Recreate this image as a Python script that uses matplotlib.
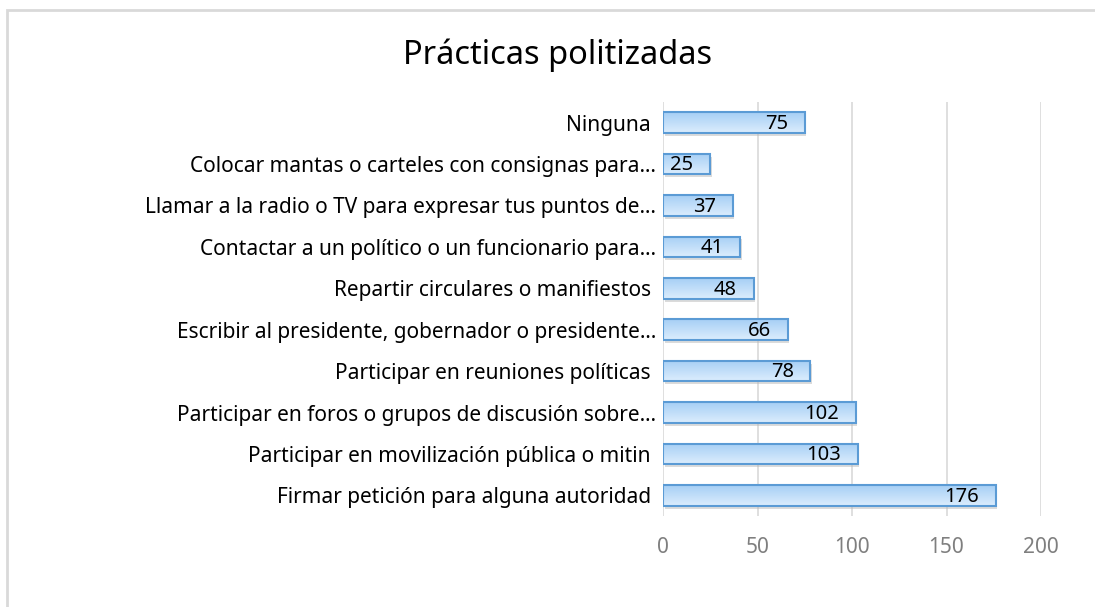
import numpy as np
import matplotlib
matplotlib.use("Agg")
import matplotlib.pyplot as plt
from matplotlib.patches import Rectangle

plt.rcParams['font.family'] = ['Noto Sans', 'DejaVu Sans']

categories = [
    "Firmar petición para alguna autoridad ",
    "Participar en movilización pública o mitin ",
    "Participar en foros o grupos de discusión sobre…",
    "Participar en reuniones políticas ",
    "Escribir al presidente, gobernador o presidente…",
    "Repartir circulares o manifiestos ",
    "Contactar a un político o un funcionario para…",
    "Llamar a la radio o TV para expresar tus puntos de…",
    "Colocar mantas o carteles con consignas para…",
    "Ninguna ",
]
values = [176, 103, 102, 78, 66, 48, 41, 37, 25, 75]
x_ticks = [0, 50, 100, 150, 200]

fig = plt.figure(figsize=(10.95, 6.07), dpi=100)
fig.patches.append(Rectangle((7 / 1095, -0.1), 1.2, 1 - 10 / 607 + 0.1,
                             transform=fig.transFigure, fill=False,
                             edgecolor="#d9d9d9", linewidth=2))

ax = fig.add_axes([663 / 1095, 1 - 516 / 607, 378 / 1095, 414 / 607])
y = np.arange(len(categories))
bars = ax.barh(y, values, height=0.5, color="none", edgecolor="#5b9bd5",
               linewidth=1.5, zorder=3)

# gradient fill + soft shadow under each bar
grad = np.linspace(0, 1, 64).reshape(-1, 1)
cmap = matplotlib.colors.LinearSegmentedColormap.from_list("g", ["#dcedfd", "#a6cff5"])
for b in bars:
    x0, y0, w, h = b.get_x(), b.get_y(), b.get_width(), b.get_height()
    ax.add_patch(Rectangle((x0 + 0.8, y0 - 0.07), w, h, facecolor="#b8b8b8",
                           edgecolor="none", alpha=0.5, zorder=2))
    ax.imshow(grad, extent=(x0, x0 + w, y0 + h, y0), cmap=cmap, aspect="auto",
              origin="upper", zorder=2.5)

for i, v in enumerate(values):
    ax.annotate(str(v), (v, i), xytext=(-12, -1), textcoords="offset points",
                ha="right", va="center", fontsize=14.5, color="black", zorder=4)

ax.set_xlim(0, 200)
ax.set_ylim(-0.5, len(categories) - 0.5)
ax.set_xticks(x_ticks)
ax.set_xticklabels([str(t) for t in x_ticks], fontsize=15, color="#7f7f7f")
ax.set_yticks(y)
ax.set_yticklabels(categories, fontsize=15, color="black")
ax.tick_params(axis="both", length=0)
ax.tick_params(axis="x", pad=15)
ax.tick_params(axis="y", pad=5)
ax.grid(axis="x", color="#d9d9d9", linewidth=1.2, zorder=0)
ax.set_axisbelow(True)
for s in ax.spines.values():
    s.set_visible(False)

fig.text(558 / 1095, 1 - 55 / 607, "Prácticas politizadas", ha="center",
         va="center", fontsize=23.5, color="black")

fig.savefig("out.png", dpi=100)
